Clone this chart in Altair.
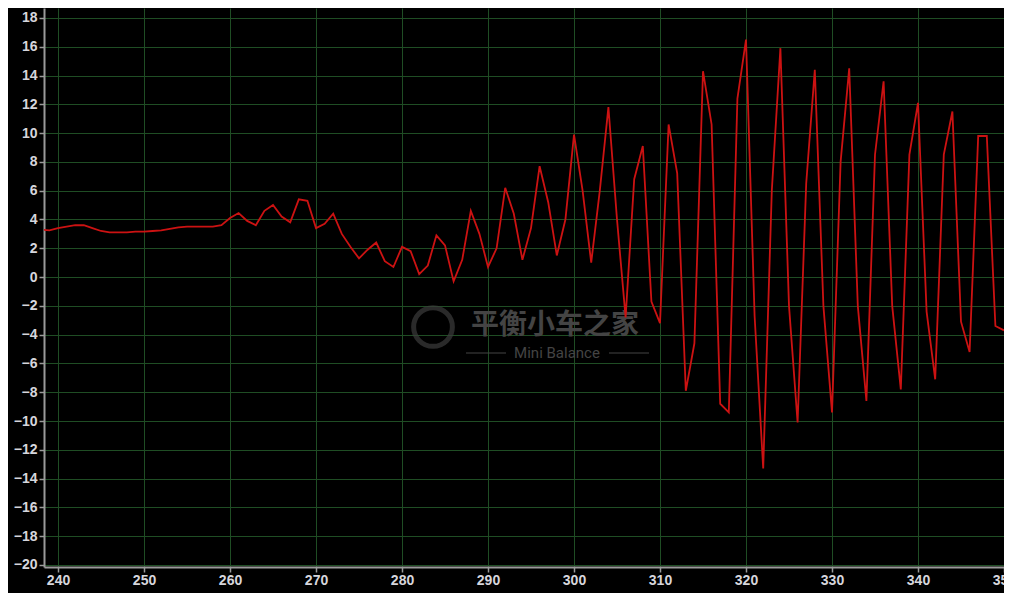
import altair as alt
import pandas as pd

x_vals = list(range(238, 351))
y_vals = [
    3.3, 3.25, 3.4, 3.5, 3.6, 3.6, 3.4, 3.2, 3.1, 3.1,        # 238-247
    3.1, 3.15, 3.15, 3.2, 3.25, 3.35, 3.45, 3.5, 3.5, 3.5,    # 248-257
    3.5, 3.6, 4.1, 4.45, 3.9, 3.6, 4.6, 5.0, 4.2, 3.8,        # 258-267
    5.4, 5.3, 3.4, 3.7, 4.4, 3.0, 2.1, 1.3, 1.9, 2.4,         # 268-277
    1.1, 0.7, 2.1, 1.8, 0.2, 0.8, 2.9, 2.2, -0.3, 1.2,        # 278-287
    4.6, 3.0, 0.7, 2.0, 6.2, 4.4, 1.2, 3.4, 7.7, 5.2,         # 288-297
    1.5, 4.0, 9.9, 6.0, 1.0, 6.0, 11.8, 4.0, -2.8, 6.8,       # 298-307
    9.1, -1.7, -3.2, 10.6, 7.2, -7.9, -4.6, 14.3, 10.6, -8.8, # 308-317
    -9.4, 12.4, 16.5, -2.7, -13.3, 6.0, 15.9, -2.0, -10.1, 6.5,  # 318-327
    14.4, -2.0, -9.4, 8.0, 14.5, -2.0, -8.6, 8.5, 13.6, -2.0,    # 328-337
    -7.8, 8.5, 12.1, -2.4, -7.1, 8.5, 11.5, -3.1, -5.2, 9.8,     # 338-347
    9.8, -3.4, -3.7,                                             # 348-350
]
x_ticks = list(range(240, 351, 10))
y_ticks = list(range(-20, 19, 2))

df = pd.DataFrame({"x": x_vals, "y": y_vals})

FONT = "Liberation Sans"
GRID = "#1f4d24"
AXIS = "#9a9a9a"
LABEL = "#d6d6dc"

x_enc = alt.X(
    "x:Q",
    scale=alt.Scale(domain=[238.37, 350], nice=False, zero=False),
    axis=alt.Axis(values=x_ticks, title=None, format="d", labelFlush=False),
)
y_enc = alt.Y(
    "y:Q",
    scale=alt.Scale(domain=[-20.14, 18.69], nice=False, zero=False),
    axis=alt.Axis(values=y_ticks, title=None, format="d"),
)

line = alt.Chart(df).mark_line(color="#cc1212", strokeWidth=1.8, clip=True).encode(
    x=x_enc, y=y_enc
)

wm = pd.DataFrame({"cn": ["平衡小车之家"], "en": ["Mini Balance"]})
wm_cn = alt.Chart(wm).mark_text(
    font="Noto Sans CJK SC", fontSize=28, fontWeight="bold", color="#444444"
).encode(text="cn:N", x=alt.value(511), y=alt.value(318))
wm_en = alt.Chart(wm).mark_text(
    font="Roboto", fontSize=15, color="#444444"
).encode(text="en:N", x=alt.value(513), y=alt.value(345))
wm_l1 = alt.Chart(wm).mark_rule(color="#444444", strokeWidth=1).encode(
    x=alt.value(422), x2=alt.value(462), y=alt.value(345)
)
wm_l2 = alt.Chart(wm).mark_rule(color="#444444", strokeWidth=1).encode(
    x=alt.value(565), x2=alt.value(605), y=alt.value(345)
)
wm_logo = alt.Chart(wm).mark_point(
    shape="circle", filled=False, size=1500, strokeWidth=5, color="#3c3c3c"
).encode(x=alt.value(389), y=alt.value(319))

chart = (
    alt.layer(wm_logo, wm_cn, wm_en, wm_l1, wm_l2, line)
    .properties(
        width=960,
        height=559,
        background="black",
        padding={"left": 36, "top": 0, "right": 0, "bottom": 26},
        autosize=alt.AutoSizeParams(type="none"),
    )
    .configure_view(stroke=None, fill="black")
    .configure_axis(
        domainColor=AXIS,
        domainWidth=2,
        tickColor=AXIS,
        tickSize=5,
        tickWidth=1.5,
        labelColor=LABEL,
        labelFont=FONT,
        labelFontSize=14,
        labelFontWeight="bold",
        gridColor=GRID,
        gridWidth=1,
        gridOpacity=1,
    )
    .configure_axisY(labelPadding=2)
    .configure_axisX(labelPadding=1)
)

chart.save("out.html", embed_options={"renderer": "svg", "actions": False})
